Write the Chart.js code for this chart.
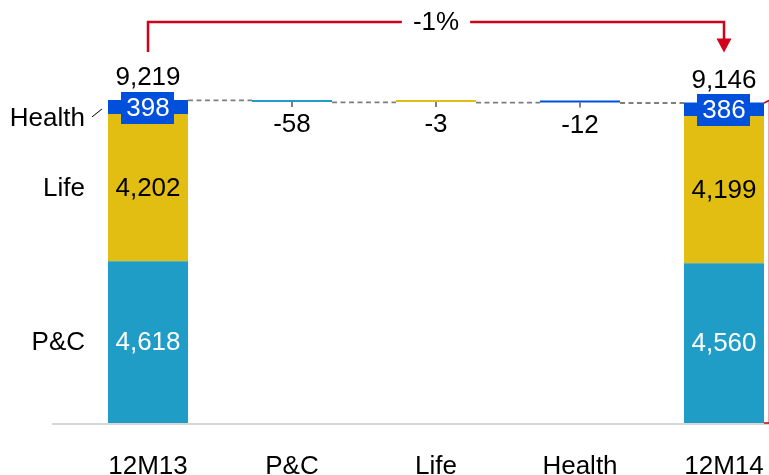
<!DOCTYPE html>
<html>
<head>
<meta charset="utf-8">
<script src="https://cdn.jsdelivr.net/npm/chart.js@4"></script>
<style>
  html, body { margin: 0; padding: 0; background: #ffffff; overflow: hidden; }
  #wrap { position: absolute; left: 0; top: 0; width: 796px; height: 475px; }
</style>
</head>
<body>
<div id="wrap"><canvas id="c" width="796" height="475"></canvas></div>
<script>
// ---- data ----
const categories = ['12M13', 'P&C', 'Life', 'Health', '12M14'];
const segmentNames = ['P&C', 'Life', 'Health'];
const startValues = [4618, 4202, 398];   // 12M13 by segment
const endValues = [4560, 4199, 386];     // 12M14 by segment
const deltaValues = [-58, -3, -12];      // change by segment
const totalValues = [9219, 9146];        // 12M13, 12M14 totals
const changeLabel = '-1%';

// ---- styles ----
const segColors = ['#1F9DC6', '#E2BE12', '#0050DC'];
const segTextColors = ['#ffffff', '#000000', '#ffffff'];
const RED = '#D0021B';
const FONT = '"Liberation Sans", Arial, sans-serif';

// running totals for the waterfall
const running = [totalValues[0]];
deltaValues.forEach((d, i) => running.push(running[i] + d));

const datasets = segmentNames.map((name, k) => {
  const data = categories.map(() => null);
  data[0] = startValues[k];
  data[k + 1] = [running[k + 1], running[k]];
  data[categories.length - 1] = endValues[k];
  return {
    label: name,
    data: data,
    backgroundColor: segColors[k],
    borderWidth: 0,
    stack: 's',
    minBarLength: 2,
    categoryPercentage: 1,
    barPercentage: 80 / 144
  };
});

const fmt = v => v.toLocaleString('en-US');

const annotate = {
  id: 'annotate',
  afterDatasetsDraw(chart) {
    const ctx = chart.ctx;
    const xs = chart.scales.x, ys = chart.scales.y;
    const bw = chart.getDatasetMeta(0).data[0].width;
    const last = categories.length - 1;
    const yp = v => ys.getPixelForValue(v);
    ctx.save();

    // baseline axis
    ctx.strokeStyle = '#D6D6D6';
    ctx.lineWidth = 2;
    ctx.beginPath();
    ctx.moveTo(52, chart.chartArea.bottom + 1);
    ctx.lineTo(chart.width, chart.chartArea.bottom + 1);
    ctx.stroke();

    // dashed connectors
    ctx.strokeStyle = '#7F7F7F';
    ctx.lineWidth = 1.8;
    ctx.setLineDash([5, 3.5]);
    for (let i = 0; i < last; i++) {
      const y = yp(running[i]) + 0.5;
      ctx.beginPath();
      ctx.moveTo(xs.getPixelForValue(i) + bw / 2, y);
      ctx.lineTo(xs.getPixelForValue(i + 1) - bw / 2, y);
      ctx.stroke();
    }
    ctx.setLineDash([]);

    ctx.textAlign = 'center';
    ctx.textBaseline = 'middle';
    ctx.font = '26px ' + FONT;

    // stacked bar labels
    const stackBars = [[0, startValues, totalValues[0]], [last, endValues, totalValues[1]]];
    stackBars.forEach(([idx, vals, tot]) => {
      const cx = xs.getPixelForValue(idx);
      let base = 0;
      vals.forEach((v, k) => {
        const cy = (yp(base) + yp(base + v)) / 2;
        base += v;
        if (k === 2) {
          const tw = ctx.measureText(fmt(v)).width;
          ctx.fillStyle = segColors[k];
          ctx.fillRect(Math.round(cx - tw / 2 - 5), Math.round(cy - 15), Math.round(tw + 10), 32);
          ctx.fillStyle = segTextColors[k];
          ctx.fillText(fmt(v), cx, cy + 2);
        } else {
          ctx.fillStyle = segTextColors[k];
          ctx.fillText(fmt(v), cx, cy + 1);
        }
      });
      ctx.fillStyle = '#000';
      ctx.fillText(fmt(tot), cx, yp(tot) - 22);
    });

    // delta labels and ticks
    deltaValues.forEach((d, k) => {
      const el = chart.getDatasetMeta(k).data[k + 1];
      const cx = el.x;
      const bottom = Math.max(el.y, el.base);
      ctx.strokeStyle = '#555';
      ctx.lineWidth = 1.5;
      ctx.beginPath();
      ctx.moveTo(cx, bottom);
      ctx.lineTo(cx, bottom + 5);
      ctx.stroke();
      ctx.fillStyle = '#000';
      ctx.fillText(String(d), cx, bottom + 23);
    });

    // left segment names
    const x0 = xs.getPixelForValue(0) - bw / 2;
    ctx.textAlign = 'right';
    let base = 0;
    startValues.forEach((v, k) => {
      let cy = (yp(base) + yp(base + v)) / 2;
      base += v;
      if (k === 2) {
        cy += 11;
        ctx.strokeStyle = '#000';
        ctx.lineWidth = 1;
        ctx.beginPath();
        ctx.moveTo(x0 - 16, cy - 1);
        ctx.lineTo(x0 - 6, cy - 9);
        ctx.stroke();
      }
      ctx.fillStyle = '#000';
      ctx.fillText(segmentNames[k], x0 - 23, cy + 1);
    });

    // red change bracket
    const xl = xs.getPixelForValue(0), xr = xs.getPixelForValue(last);
    const by = 22;
    const leftBottom = yp(totalValues[0]) - 48;
    const tip = yp(totalValues[1]) - 50;
    ctx.textAlign = 'center';
    const tw = ctx.measureText(changeLabel).width;
    const mid = (xl + xr) / 2;
    ctx.strokeStyle = RED;
    ctx.lineWidth = 2.5;
    ctx.beginPath();
    ctx.moveTo(xl, leftBottom);
    ctx.lineTo(xl, by);
    ctx.lineTo(mid - tw / 2 - 11, by);
    ctx.moveTo(mid + tw / 2 + 11, by);
    ctx.lineTo(xr, by);
    ctx.lineTo(xr, tip - 13);
    ctx.stroke();
    ctx.fillStyle = RED;
    ctx.beginPath();
    ctx.moveTo(xr - 7.5, tip - 14);
    ctx.lineTo(xr + 7.5, tip - 14);
    ctx.lineTo(xr, tip);
    ctx.closePath();
    ctx.fill();
    ctx.fillStyle = '#000';
    ctx.fillText(changeLabel, mid, by + 1);

    // partial right bracket at the edge
    const top4 = yp(totalValues[1]);
    ctx.strokeStyle = RED;
    ctx.lineWidth = 1.5;
    ctx.beginPath();
    ctx.moveTo(764, top4 + 0.5);
    ctx.lineTo(770, top4 - 2.5);
    ctx.moveTo(764, chart.chartArea.bottom);
    ctx.lineTo(772, chart.chartArea.bottom);
    ctx.stroke();
    ctx.globalAlpha = 0.35;
    ctx.lineWidth = 1;
    ctx.beginPath();
    ctx.moveTo(768.5, top4 - 2);
    ctx.lineTo(768.5, chart.chartArea.bottom);
    ctx.stroke();

    ctx.restore();
  }
};

new Chart(document.getElementById('c'), {
  type: 'bar',
  data: { labels: categories, datasets: datasets },
  options: {
    responsive: false,
    animation: false,
    devicePixelRatio: 1,
    layout: { padding: { left: 76, right: 0, top: 20, bottom: 0 } },
    plugins: { legend: { display: false }, tooltip: { enabled: false } },
    scales: {
      x: {
        stacked: true,
        grid: { display: false, drawTicks: false },
        border: { display: false },
        ticks: { color: '#000', font: { family: FONT, size: 26 }, padding: 28, maxRotation: 0 },
        afterFit(scale) { scale.height = 52; }
      },
      y: {
        stacked: true,
        display: false,
        min: 0,
        max: 11500
      }
    }
  },
  plugins: [annotate]
});
</script>
</body>
</html>
